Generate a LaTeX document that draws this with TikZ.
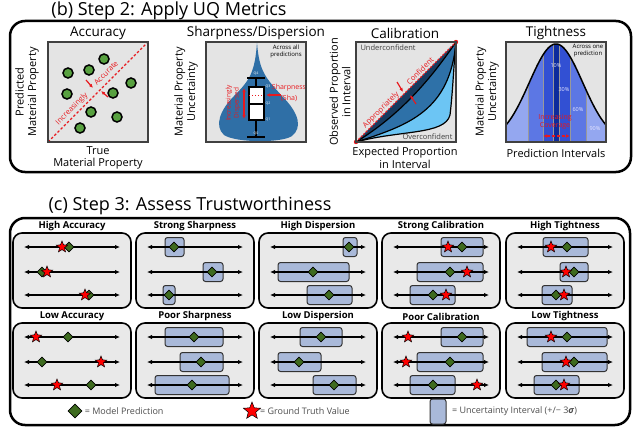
\documentclass[tikz,border=0pt]{standalone}
\usepackage{fontspec}
\setmainfont{Open Sans}
\usetikzlibrary{arrows.meta,shapes.geometric,positioning}

\definecolor{plotgray}{HTML}{E4E4E4}
\definecolor{panelgray}{HTML}{E9E9E9}
\definecolor{dotgreen}{HTML}{58A140}
\definecolor{predgreen}{HTML}{3E6B1F}
\definecolor{uqblue}{HTML}{A9B9D9}
\definecolor{violinblue}{HTML}{2F6FA6}
\definecolor{calnavy}{HTML}{173B60}
\definecolor{calsteel}{HTML}{2E71A8}
\definecolor{callight}{HTML}{6CC5F4}
\definecolor{band90}{HTML}{94A7F0}
\definecolor{band60}{HTML}{5C77E4}
\definecolor{band30}{HTML}{3250D3}
\definecolor{band10}{HTML}{0C2B9C}
\definecolor{uqred}{HTML}{E8191E}
\definecolor{legendgray}{HTML}{4D4D4D}

\newcommand{\gaussy}[1]{142-98*exp(-((#1-556)*(#1-556))/1426)}

\tikzset{
  heading/.style={font=\fontsize{18}{21}\selectfont},
  subhead/.style={font=\fontsize{13.5}{16}\selectfont},
  axislabel/.style={font=\fontsize{11}{12.5}\selectfont, align=center},
  tinynote/.style={font=\fontsize{6}{7}\selectfont, align=center},
  qlabel/.style={font=\fontsize{3.5}{4}\selectfont, text=white, inner sep=0},
  pctlabel/.style={font=\fontsize{5.5}{6}\selectfont, text=white!90!blue},
  redtext/.style={font=\fontsize{7.5}{8.5}\selectfont, text=uqred, align=center},
  redarrow/.style={-{Latex[length=4pt,width=3.5pt]}, draw=uqred, line width=1.2},
  outerbox/.style={draw=black, line width=2.5, rounded corners=15},
  sqborder/.style={draw=black!75, line width=1.5},
  panel/.style={fill=panelgray, draw=black, line width=1.6, rounded corners=9},
  paneltitle/.style={font=\bfseries\fontsize{9.5}{11}\selectfont},
  numline/.style={{Latex[length=5pt,width=4.5pt]}-{Latex[length=5pt,width=4.5pt]}, line width=1.2},
  uqbox/.style={fill=uqblue, draw=black!80, line width=1, rounded corners=2.5},
  pred/.style={diamond, fill=predgreen, draw=black, line width=0.6, minimum size=10, inner sep=0},
  truth/.style={star, star points=5, star point ratio=2.3, fill=red, draw=black, line width=0.5, minimum size=12, inner sep=0},
  accdot/.style={circle, fill=dotgreen, draw=black, line width=1.5, minimum size=10, inner sep=0},
  legend/.style={font=\fontsize{9}{10}\selectfont, text=legendgray}
}

\begin{document}
\begin{tikzpicture}[x=1pt,y=-1pt]
\useasboundingbox (0,0) rectangle (640,444);

% (b) step 2
\node[heading] (titleb) at (169,11) {(b) Step 2: Apply UQ Metrics};
\draw[outerbox] (10,21) rectangle (631,172);

% accuracy
\node[subhead] (acctitle) at (98,33) {Accuracy};
\fill[plotgray] (48,42) rectangle (148,142);
\draw[uqred, line width=1.2, dash pattern=on 2.5pt off 2pt] (48,142) -- (148,42);
\foreach \x/\y [count=\i] in {68/73,89/70,104/59,131/83,67/94,113/93,91/112,117/117,80/128}
  \node[accdot] (dot\i) at (\x,\y) {};
\node[redtext, rotate=45] (incr) at (72,109) {Increasingly};
\node[redtext, rotate=45] (accur) at (106,73) {Accurate};
\draw[redarrow] (86,80) -- (93,88);
\draw[redarrow] (108,97) -- (101,91);
\draw[sqborder] (48,42) rectangle (148,142);
\node[axislabel, rotate=90] (accy) at (27,92) {Predicted\\Material Property};
\node[axislabel] (accx) at (98,158) {True\\Material Property};

% sharpness / dispersion
\node[subhead] (shatitle) at (256,33) {Sharpness/Dispersion};
\fill[plotgray] (206,42) rectangle (306,142);
\fill[violinblue] (257,42) .. controls (259,72) and (266,78) .. (282,96)
  .. controls (300,114) and (302,128) .. (292,136)
  .. controls (282,143) and (236,143) .. (224,135)
  .. controls (214,126) and (220,110) .. (234,96)
  .. controls (250,80) and (255,72) .. (257,42) -- cycle;
\draw[line width=1.3] (256,78) -- (256,137);
\draw[line width=1.3] (247,78) -- (265,78);
\draw[line width=1.3] (247,137) -- (265,137);
\draw[fill=white, line width=1.1] (249,87) rectangle (264,120);
\draw[line width=1.1] (249,104) -- (264,104);
\draw[uqred, line width=1, dotted] (249,95) -- (264,95);
\node[qlabel] (q4) at (256,74) {Q4};
\node[qlabel] (q3) at (268,87) {Q3};
\node[qlabel] (q2) at (268,104) {Q2};
\node[qlabel] (q1) at (268,120) {Q1};
\node[qlabel] (q0) at (256,133.5) {Q0};
\draw[redarrow, {Latex[length=4pt,width=3.5pt]}-{Latex[length=4pt,width=3.5pt]}, line width=1.5] (244,88) -- (244,119);
\node[redtext, rotate=90, font=\fontsize{6.5}{8}\selectfont] (disp) at (233,103) {Increasingly\\Dispersed};
\draw[redarrow] (281,95) -- (266,95);
\node[redtext, font=\fontsize{7}{8}\selectfont] (shalab) at (289,88) {Sharpness};
\node[redtext, font=\fontsize{7}{8}\selectfont] (shaabbr) at (289,98) {(Sha)};
\node[tinynote] (allpred) at (286,51) {Across all\\predictions};
\draw[sqborder] (206,42) rectangle (306,142);
\node[axislabel, rotate=90] (shay) at (186,92) {Material Property\\Uncertainty};

% calibration
\node[subhead] (caltitle) at (405,33) {Calibration};
\fill[plotgray] (356,42) rectangle (456,142);
\fill[callight] (356,142) .. controls (400,130) and (445,135) .. (450,115)
  .. controls (453,90) and (454,60) .. (456,42) -- cycle;
\fill[calsteel] (356,142) .. controls (410,125) and (450,110) .. (456,42) -- cycle;
\fill[calnavy] (356,142) .. controls (400,115) and (430,80) .. (456,42) -- cycle;
\draw[line width=1.2] (356,142) .. controls (400,130) and (445,135) .. (450,115)
  .. controls (453,90) and (454,60) .. (456,42);
\draw[line width=1.2] (356,142) .. controls (410,125) and (450,110) .. (456,42);
\draw[line width=1.2] (356,142) .. controls (400,115) and (430,80) .. (456,42);
\draw[uqred, line width=1.2, dash pattern=on 2pt off 1.5pt] (356,142) -- (456,42);
\fill[uqred] (356,142) circle (2.2) (456,42) circle (2.2);
\node[redtext, rotate=45] (approp) at (381,110) {Appropriately};
\node[redtext, rotate=45] (confid) at (420,71) {Confident};
\draw[redarrow] (397,82) -- (403,92);
\draw[redarrow] (416,104) -- (410,95);
\node[font=\fontsize{7.5}{8}\selectfont, text=black!75, anchor=west] (under) at (357,48) {Underconfident};
\node[font=\fontsize{7.5}{8}\selectfont, text=black!75, anchor=east] (over) at (456,137) {Overconfident};
\draw[sqborder] (356,42) rectangle (456,142);
\node[axislabel, rotate=90] (caly) at (340,92) {Observed Proportion\\in Interval};
\node[axislabel] (calx) at (405,158) {Expected Proportion\\in Interval};

% tightness
\node[subhead] (tigtitle) at (556,33) {Tightness};
\fill[plotgray] (506,42) rectangle (606,142);
\fill[band90] plot[domain=506:606, samples=60] (\x,{\gaussy{\x}}) -- (606,142) -- (506,142) -- cycle;
\fill[band60] plot[domain=528:586, samples=40] (\x,{\gaussy{\x}}) -- (586,142) -- (528,142) -- cycle;
\fill[band30] plot[domain=543:570, samples=30] (\x,{\gaussy{\x}}) -- (570,142) -- (543,142) -- cycle;
\fill[band10] plot[domain=553:559.5, samples=10] (\x,{\gaussy{\x}}) -- (559.5,142) -- (553,142) -- cycle;
\foreach \bx in {528,543,553,559.5,570,586}
  \draw[black!40, line width=0.4] (\bx,{\gaussy{\bx}}) -- (\bx,142);
\draw[line width=1.5] plot[domain=506:606, samples=80] (\x,{\gaussy{\x}});
\node[pctlabel] (p10) at (556,66) {10\%};
\node[pctlabel] (p30) at (564,90) {30\%};
\node[pctlabel] (p60) at (578,110) {60\%};
\node[pctlabel] (p90) at (595,129) {90\%};
\node[redtext, font=\fontsize{7}{8.5}\selectfont] (cover) at (555,122) {Increasing\\Coverage};
\draw[redarrow, {Latex[length=4pt,width=3.5pt]}-{Latex[length=4pt,width=3.5pt]}, dash pattern=on 3pt off 2pt] (543,136) -- (570,136);
\node[tinynote] (onepred) at (588,51) {Across one\\prediction};
\draw[sqborder] (506,42) rectangle (606,142);
\node[axislabel, rotate=90] (tigy) at (487,92) {Material Property\\Uncertainty};
\node[axislabel] (tigx) at (556,153) {Prediction Intervals};

% (c) step 3
\node[heading] (titlec) at (190,206) {(c) Step 3: Assess Trustworthiness};
\draw[outerbox] (10,218) rectangle (630,425);

\foreach \px in {13,136,259,382,506}
  \foreach \py in {233,323}
    \draw[panel] (\px,\py) rectangle ++(118,75);

\foreach \px/\hname/\lname [count=\i] in {13/High Accuracy/Low Accuracy,
    136/Strong Sharpness/Poor Sharpness, 259/High Dispersion/Low Dispersion,
    382/Strong Calibration/Poor Calibration, 506/High Tightness/Low Tightness} {
  \node[paneltitle] (hi\i) at (\px+59,226.5) {\hname};
  \node[paneltitle] (lo\i) at (\px+59,316.5) {\lname};
}

% uncertainty intervals
\foreach \a/\b/\y in {165/184/247, 203/223/272, 163/175/295,
    165/223/337, 180/223/362, 155/229/385,
    343/357/247, 278/349/272, 307/352/295,
    300/342/337, 278/321/362, 313/356/385,
    441/483/247, 417/483/272, 410/455/295,
    441/483/337, 417/483/362, 410/455/385,
    543/588/247, 560/588/272, 542/572/295,
    527/607/337, 542/607/362, 534/579/385}
  \draw[uqbox] (\a,\y-9.5) rectangle (\b,\y+9.5);

\foreach \px in {13,136,259,382,506}
  \foreach \ly in {247,272,295,337,362,385}
    \draw[numline] (\px+11,\ly) -- (\px+107,\ly);

% model predictions
\foreach \x/\y [count=\i] in {69/247, 42/272, 89/295, 68/337, 42/362, 91/385,
    174/247, 212/272, 169/295, 194/337, 201/362, 192/385,
    349/247, 313/272, 329/295, 321/337, 299/362, 334/385,
    462/247, 450/272, 433/295, 462/337, 450/362, 433/385,
    567/247, 574/272, 556/295, 567/337, 574/362, 556/385}
  \node[pred] (pred\i) at (\x,\y) {};

% ground truth
\foreach \x/\y [count=\i] in {62/247, 47/272, 85/295, 36/337, 101/362, 57/385,
    448/247, 467/272, 446/295, 408/337, 406/362, 477/385,
    551/247, 566/272, 564/295, 551/337, 566/362, 564/385}
  \node[truth] (truth\i) at (\x,\y) {};

% legend
\node[pred, minimum size=14] (legpred) at (75,411) {};
\node[legend, right=-1pt of legpred] (legpredtxt) {= Model Prediction};
\node[truth, minimum size=18] (legtruth) at (252,411) {};
\node[legend, right=-1pt of legtruth] (legtruthtxt) {= Ground Truth Value};
\node[uqbox, minimum width=16, minimum height=25, inner sep=0] (legbox) at (438,411.5) {};
\node[legend, right=2pt of legbox] (legboxtxt) {= Uncertainty Interval (+/− 3\textbf{\textit{σ}})};
\end{tikzpicture}
\end{document}
